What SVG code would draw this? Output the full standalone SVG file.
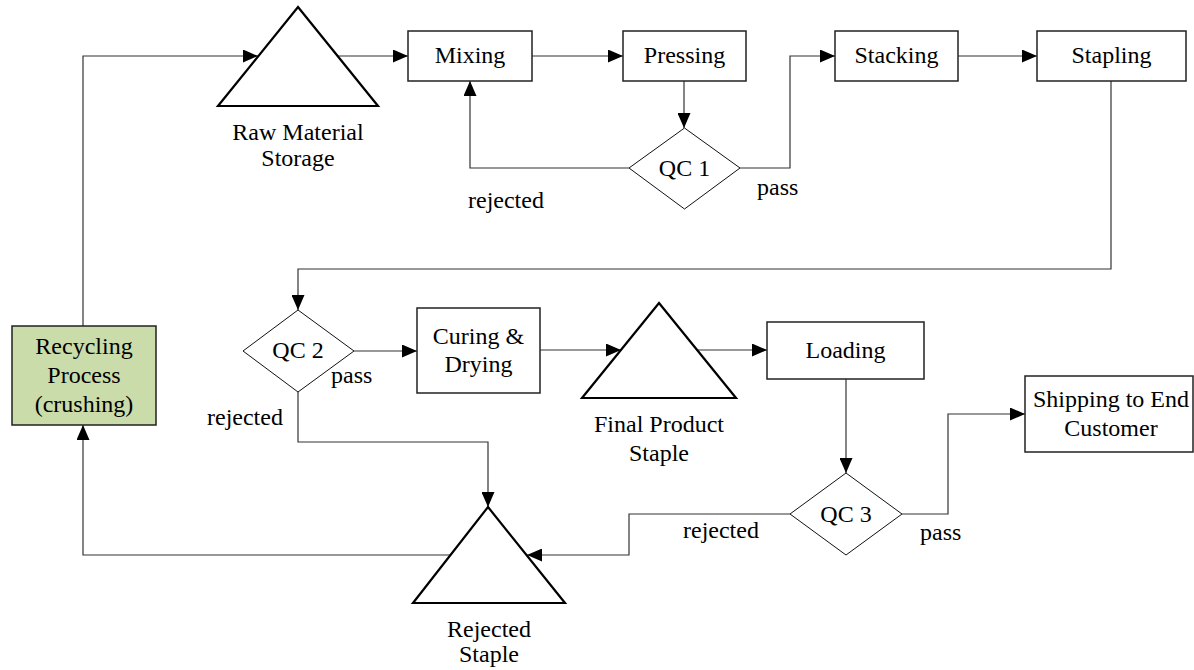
<svg xmlns="http://www.w3.org/2000/svg" width="1194" height="670" viewBox="0 0 1194 670">
<style>
text{font-size:24px;fill:#000;text-anchor:middle}
.box{fill:#fff;stroke:#222;stroke-width:1.5}
.green{fill:#cbdcab;stroke:#222;stroke-width:1.5}
.dia{fill:#fff;stroke:#111;stroke-width:1}
.tri{fill:none;stroke:#000;stroke-width:2.2;stroke-linejoin:miter}
.con{fill:none;stroke:#333;stroke-width:1.2}
.lbl{text-anchor:start}
</style>
<defs>
<marker id="arr" markerUnits="userSpaceOnUse" markerWidth="15" markerHeight="13" refX="15" refY="6.5" orient="auto">
<path d="M0,0 L15,6.5 L0,13 Z" fill="#000"/>
</marker>
</defs>
<rect width="1194" height="670" fill="#fff"/>
<g font-family="'Liberation Serif', 'DejaVu Serif', serif">
<g id="connectors">
<path class="con" d="M83,326 V56 H258" marker-end="url(#arr)"/>
<path class="con" d="M338,56 H408" marker-end="url(#arr)"/>
<path class="con" d="M532,56 H623" marker-end="url(#arr)"/>
<path class="con" d="M684,81 V128" marker-end="url(#arr)"/>
<path class="con" d="M629,168 H470 V81" marker-end="url(#arr)"/>
<path class="con" d="M740,168 H790 V56 H835" marker-end="url(#arr)"/>
<path class="con" d="M958,56 H1037" marker-end="url(#arr)"/>
<path class="con" d="M1111,81 V269 H298 V310" marker-end="url(#arr)"/>
<path class="con" d="M354,351 H417" marker-end="url(#arr)"/>
<path class="con" d="M540,350 H621" marker-end="url(#arr)"/>
<path class="con" d="M697,350 H767" marker-end="url(#arr)"/>
<path class="con" d="M846,379 V473" marker-end="url(#arr)"/>
<path class="con" d="M902,514 H948 V414 H1025" marker-end="url(#arr)"/>
<path class="con" d="M790,514 H629 V555 H527" marker-end="url(#arr)"/>
<path class="con" d="M298,392 V442 H488 V507" marker-end="url(#arr)"/>
<path class="con" d="M450,555 H83 V425" marker-end="url(#arr)"/>
<text class="lbl" x="468" y="208">rejected</text>
<text class="lbl" x="757" y="195">pass</text>
<text class="lbl" x="331" y="383">pass</text>
<text class="lbl" x="207" y="425">rejected</text>
<text class="lbl" x="683" y="538">rejected</text>
<text class="lbl" x="920" y="540">pass</text>
</g>
<g id="raw-material-storage">
<path class="tri" d="M298,7 L378,106 L218,106 Z"/>
<text x="298" y="140">Raw Material</text>
<text x="298" y="166">Storage</text>
</g>
<g id="mixing">
<rect class="box" x="408" y="31" width="124" height="50"/>
<text x="470" y="63">Mixing</text>
</g>
<g id="pressing">
<rect class="box" x="623" y="31" width="123" height="50"/>
<text x="684.5" y="63">Pressing</text>
</g>
<g id="qc1">
<path class="dia" d="M684.5,128 L740,168 L684.5,209 L629,168 Z"/>
<text x="684.5" y="176">QC 1</text>
</g>
<g id="stacking">
<rect class="box" x="835" y="31" width="123" height="50"/>
<text x="896.5" y="63">Stacking</text>
</g>
<g id="stapling">
<rect class="box" x="1037" y="31" width="149" height="50"/>
<text x="1111.5" y="63">Stapling</text>
</g>
<g id="qc2">
<path class="dia" d="M298,310 L354,351 L298,392 L243,351 Z"/>
<text x="298" y="358">QC 2</text>
</g>
<g id="curing-drying">
<rect class="box" x="417" y="308" width="123" height="85"/>
<text x="478.5" y="344">Curing &amp;</text>
<text x="478.5" y="372">Drying</text>
</g>
<g id="final-product-staple">
<path class="tri" d="M659,303 L736,398 L582,398 Z"/>
<text x="659" y="432">Final Product</text>
<text x="659" y="461">Staple</text>
</g>
<g id="loading">
<rect class="box" x="767" y="322" width="157" height="57"/>
<text x="845.5" y="358">Loading</text>
</g>
<g id="qc3">
<path class="dia" d="M846,473 L902,514 L846,555 L790,514 Z"/>
<text x="846" y="522">QC 3</text>
</g>
<g id="shipping">
<rect class="box" x="1025" y="376" width="168" height="76"/>
<text x="1111" y="407">Shipping to End</text>
<text x="1111" y="436">Customer</text>
</g>
<g id="rejected-staple">
<path class="tri" d="M488,507 L565,603 L413,603 Z"/>
<text x="489" y="637">Rejected</text>
<text x="489" y="662">Staple</text>
</g>
<g id="recycling">
<rect class="green" x="12" y="326" width="144" height="99"/>
<text x="84" y="354">Recycling</text>
<text x="84" y="383">Process</text>
<text x="84" y="412">(crushing)</text>
</g>
</g>
</svg>
